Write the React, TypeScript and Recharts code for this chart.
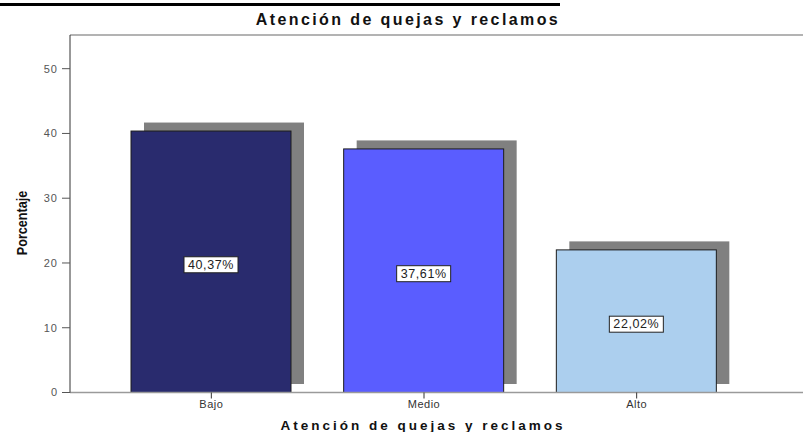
import { BarChart, Bar, XAxis, YAxis, Cell, LabelList, ReferenceLine } from "recharts";

const categories = ["Bajo", "Medio", "Alto"];
const percentages = [40.37, 37.61, 22.02];
const barColors = ["#292B6E", "#5A5DFF", "#ACCFEE"];
const yTicks = [0, 10, 20, 30, 40, 50];

const data = categories.map((name, i) => ({ name, value: percentages[i] }));

const FONT = "'Liberation Sans', Arial, sans-serif";

// bar with the grey drop shadow behind it
const ShadowBar = (props: any) => {
  const { x, y, width, height, fill } = props;
  if (!height) return null;
  return (
    <g>
      <rect x={x + 13} y={y - 8.5} width={width} height={height} fill="#808080" />
      <rect x={x} y={y} width={width} height={height} fill={fill} stroke="#1c1c1c" strokeWidth={1} />
    </g>
  );
};

const ValueBox = (props: any) => {
  const { x, y, width, height, value } = props;
  const cx = x + width / 2;
  const cy = y + height / 2 + 3;
  const text = Number(value).toFixed(2).replace(".", ",") + "%";
  return (
    <g>
      <rect x={cx - 27} y={cy - 8} width={54} height={16} fill="#fff" stroke="#222" strokeWidth={1} />
      <text x={cx} y={cy} textAnchor="middle" dominantBaseline="central" fontSize={12.5} fontFamily={FONT} fill="#222" letterSpacing={0.6}>
        {text}
      </text>
    </g>
  );
};

const YTitle = () => (
  <text
    transform="translate(27, 223) rotate(-90) scale(0.9, 1)"
    textAnchor="middle"
    fontSize={14}
    fontWeight="bold"
    fontFamily={FONT}
    fill="#111"
  >
    Porcentaje
  </text>
);

export default function App() {
  return (
    <div style={{ position: "relative", width: 803, height: 432, background: "#fff", fontFamily: FONT }}>
      <style>{"body{margin:0}"}</style>
      <div style={{ position: "absolute", left: 0, top: 3, width: 560, height: 3, background: "#000" }} />
      <div
        style={{
          position: "absolute",
          left: 240,
          top: 10,
          width: 336,
          textAlign: "center",
          fontSize: 16,
          fontWeight: "bold",
          letterSpacing: 2.4,
          color: "#111",
          lineHeight: "19px",
        }}
      >
        Atención de quejas y reclamos
      </div>
      <BarChart width={803} height={432} data={data} margin={{ top: 35, right: 0, left: 0, bottom: 9.5 }}>
        <XAxis
          dataKey="name"
          height={30}
          padding={{ left: 35, right: 60 }}
          axisLine={{ stroke: "#9a9a9a", strokeWidth: 1.5 }}
          tickLine={{ stroke: "#333" }}
          tickSize={6}
          tickMargin={2}
          tick={{ fontSize: 11, fill: "#333", fontFamily: FONT, letterSpacing: 0.5 }}
        />
        <YAxis
          width={70}
          domain={[0, 55.2]}
          ticks={yTicks}
          axisLine={{ stroke: "#333" }}
          tickLine={{ stroke: "#555" }}
          tickSize={8}
          tickMargin={4}
          tick={{ fontSize: 11, fill: "#555", fontFamily: FONT, letterSpacing: 1 }}
          label={<YTitle />}
        />
        <ReferenceLine y={55.2} stroke="#9a9a9a" strokeWidth={1.5} />
        <Bar dataKey="value" barSize={160} shape={<ShadowBar />} isAnimationActive={false}>
          {data.map((d, i) => (
            <Cell key={d.name} fill={barColors[i]} />
          ))}
          <LabelList dataKey="value" content={<ValueBox />} />
        </Bar>
      </BarChart>
      <div
        style={{
          position: "absolute",
          left: 263,
          top: 418,
          width: 320,
          textAlign: "center",
          fontSize: 13.5,
          fontWeight: "bold",
          letterSpacing: 3,
          color: "#111",
          lineHeight: "16px",
        }}
      >
        Atención de quejas y reclamos
      </div>
    </div>
  );
}
